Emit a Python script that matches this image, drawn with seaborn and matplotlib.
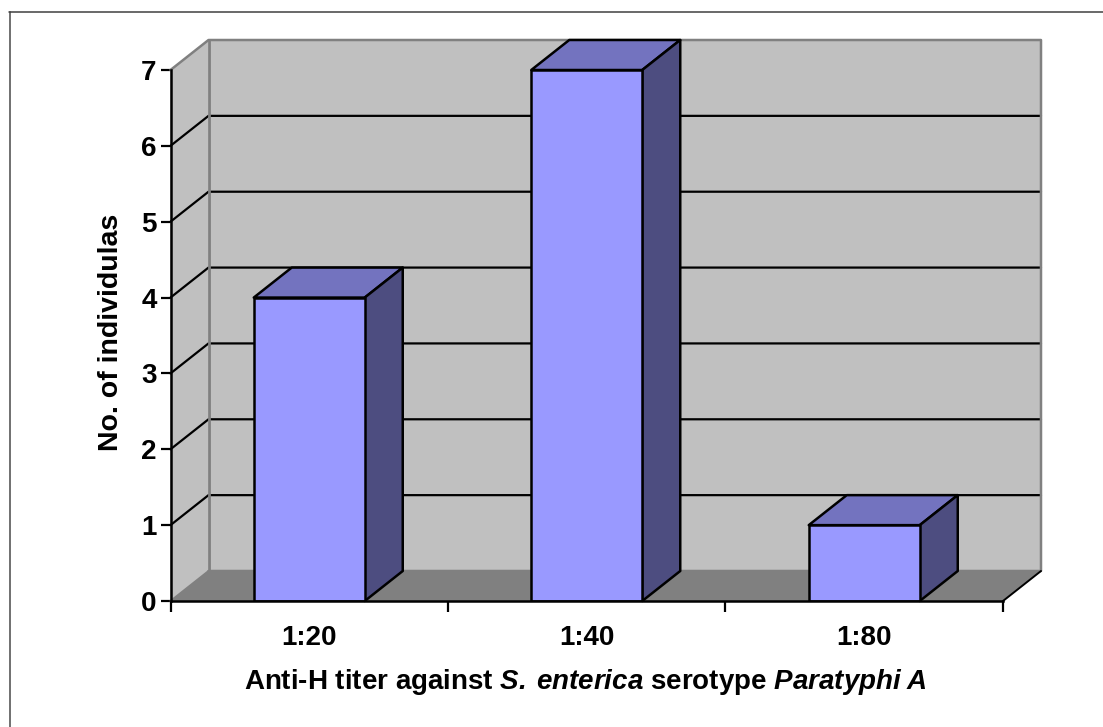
import matplotlib
matplotlib.use("Agg")
import matplotlib.pyplot as plt
import seaborn as sns
import pandas as pd
from matplotlib.lines import Line2D
from matplotlib.patches import Polygon, Rectangle

titers = ["1:20", "1:40", "1:80"]
individuals = [4, 7, 1]
y_ticks = [0, 1, 2, 3, 4, 5, 6, 7]

sns.set_theme(style="white")
plt.rcParams["font.family"] = ["Liberation Sans", "DejaVu Sans"]
plt.rcParams["mathtext.fontset"] = "custom"
plt.rcParams["mathtext.rm"] = "Liberation Sans:bold"
plt.rcParams["mathtext.bf"] = "Liberation Sans:bold"
plt.rcParams["mathtext.bfit"] = "Liberation Sans:italic:bold"

W, H = 1103, 727
df = pd.DataFrame({"titer": titers, "n": individuals})

fig = plt.figure(figsize=(W / 100, H / 100), dpi=100)
ax = fig.add_axes([170.5 / W, 1 - 601 / H, 832.5 / W, 531 / H])
# only top and left of the outer frame show
fig.add_artist(Line2D([9.5 / W, 9.5 / W], [0, 1 - 11.5 / H], color="#707070", lw=1.4))
fig.add_artist(Line2D([9 / W, 1], [1 - 11.5 / H, 1 - 11.5 / H], color="#404040", lw=1.1))

sns.barplot(data=df, x="titer", y="n", color="#9999FF", saturation=1, width=0.4,
            edgecolor="black", linewidth=1.8, zorder=5, ax=ax)
ax.set_xlim(-0.5, 2.5)
ax.set_ylim(0, 7)

# depth of the fake 3d box, in data units
dx = 38 / (832.5 / 3)
dy = 30 / (531 / 7)
x0, x1 = ax.get_xlim()


def face(pts, fc, ec="none", lw=0, z=1):
    ax.add_patch(Polygon(pts, closed=True, fc=fc, ec=ec, lw=lw, zorder=z, clip_on=False, joinstyle="round"))


# walls and floor
face([(x0, 0), (x0 + dx, dy), (x0 + dx, 7 + dy), (x0, 7)], "#C0C0C0", z=1)
face([(x0 + dx, dy), (x1 + dx, dy), (x1 + dx, 7 + dy), (x0 + dx, 7 + dy)], "#C0C0C0", z=1)
face([(x0, 0), (x1, 0), (x1 + dx, dy), (x0 + dx, dy)], "#808080", z=2)

# grid on the back wall and side wall
for v in y_ticks[1:-1]:
    ax.plot([x0, x0 + dx, x1 + dx], [v, v + dy, v + dy], color="black", lw=1.6, zorder=2, clip_on=False)

# gray edges
ax.plot([x0, x0 + dx, x1 + dx, x1 + dx, x0 + dx], [7, 7 + dy, 7 + dy, dy, dy],
        color="#808080", lw=1.8, zorder=2, clip_on=False)
ax.plot([x0 + dx, x0 + dx], [dy, 7 + dy], color="#808080", lw=2, zorder=2, clip_on=False)
ax.plot([x0, x0 + dx], [0, dy], color="#808080", lw=1.4, zorder=2, clip_on=False)
ax.plot([x1, x1 + dx], [0, dy], color="black", lw=1.4, zorder=3, clip_on=False)

# top and side of every bar, taken from the seaborn bars
for bar in ax.patches[:]:
    if not isinstance(bar, Rectangle):
        continue
    bx0, bx1 = bar.get_x(), bar.get_x() + bar.get_width()
    top = bar.get_height()
    face([(bx0, top), (bx1, top), (bx1 + dx, top + dy), (bx0 + dx, top + dy)], "#7373BF", "black", 1.8, 4)
    face([(bx1, 0), (bx1 + dx, dy), (bx1 + dx, top + dy), (bx1, top)], "#4D4D80", "black", 1.8, 4)

# axes
sns.despine(ax=ax, top=True, right=True)
for s in ["left", "bottom"]:
    ax.spines[s].set_color("black")
    ax.spines[s].set_linewidth(1.8)
    ax.spines[s].set_zorder(6)

ax.set_yticks(y_ticks)
ax.set_xticks([-0.5, 0.5, 1.5, 2.5], minor=False)
ax.set_xticklabels([])
ax.set_xticks([0, 1, 2], labels=titers, minor=True)
ax.tick_params(axis="x", which="major", length=8, width=1.6, color="black", bottom=True)
ax.tick_params(axis="x", which="minor", length=0, pad=17, labelsize=20, bottom=True)
ax.tick_params(axis="y", length=7, width=1.6, color="black", left=True, pad=3, labelsize=20)
for t in ax.get_xticklabels(minor=True) + ax.get_yticklabels():
    t.set_fontweight("bold")
    t.set_color("black")

ax.set_xlabel(r"Anti-H titer against $\mathbfit{S.\,enterica}$ serotype $\mathbfit{Paratyphi\:A}$",
              fontsize=20, fontweight="bold", color="black", labelpad=12, x=0.4976)
ax.set_ylabel("No. of individulas", fontsize=20.5, fontweight="bold", color="black", labelpad=12, y=0.505)

fig.savefig("out.png", dpi=100)
